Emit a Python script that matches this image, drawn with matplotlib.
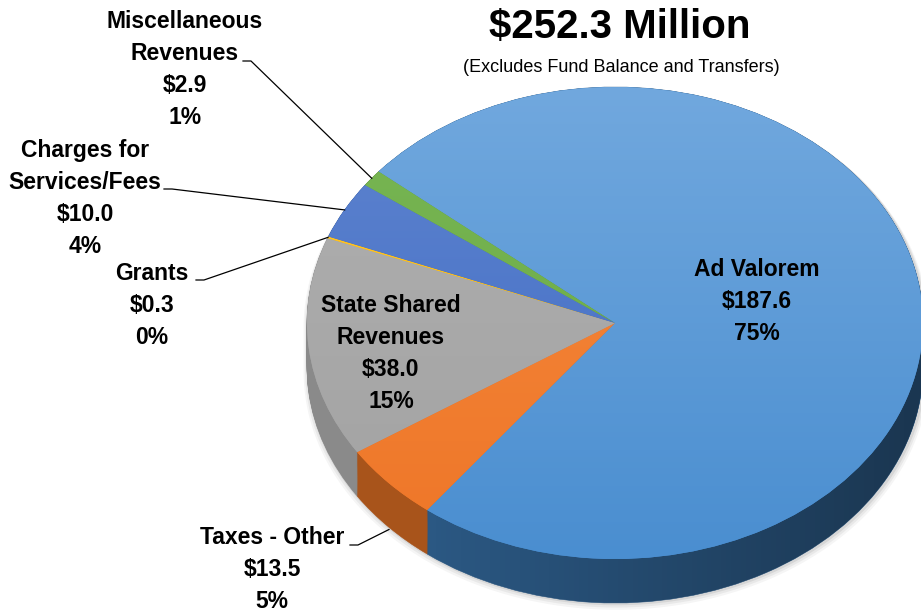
import matplotlib.pyplot as plt
import numpy as np
from matplotlib.path import Path
from matplotlib.patches import PathPatch
from matplotlib.colors import LinearSegmentedColormap

# data (clockwise from the Ad Valorem slice)
categories = ['Ad Valorem', 'Taxes - Other', 'State Shared\nRevenues', 'Grants',
              'Charges for\nServices/Fees', 'Miscellaneous\nRevenues']
values = [187.6, 13.5, 38.0, 0.3, 10.0, 2.9]
amounts = ['$187.6', '$13.5', '$38.0', '$0.3', '$10.0', '$2.9']
pcts = ['75%', '5%', '15%', '0%', '4%', '1%']
title = '$252.3 Million'
subtitle = '(Excludes Fund Balance and Transfers)'

top_light = ['#71a8de', '#f68a3e', '#b0b0b0', '#ffc533', '#5f84cf', '#78b654']
top_dark = ['#4a8ed0', '#ee7628', '#a2a2a2', '#ffbd00', '#3e6bc4', '#6aa943']
side_cols = ['#2b5883', '#a8541b', '#8a8a8a', '#c09000', '#2f5597', '#507e32']

W, H = 921, 612
CX, CY, RX, RY = 615, 323, 308, 236   # pie centre / radii in pixels
DEPTH = 44                            # thickness in pixels
START = 140.1

FONT = ['Liberation Sans Narrow', 'Liberation Sans', 'DejaVu Sans']


def to_data(x, y):
    return (x - CX) / RX, (CY - y) / RY


fig = plt.figure(figsize=(W / 100, H / 100), dpi=100)
ax = fig.add_axes([0, 0, 1, 1])
d = DEPTH / RY

# outline of the whole extruded disc (used for shadow and side shading)
t1 = np.linspace(0, np.pi, 300)
t2 = np.linspace(np.pi, 2 * np.pi, 300)
ox = np.concatenate([np.cos(t1), np.cos(t2)])
oy = np.concatenate([np.sin(t1), np.sin(t2) - d])
outline = Path(np.column_stack([ox, oy]), closed=False)

# soft shadow
for k, a in [(0.03, 0.06), (0.02, 0.08), (0.01, 0.12)]:
    sh = Path(np.column_stack([ox * (1 + k * 0.5) + 0.004, oy * (1 + k * 0.3) - k * 0.6]))
    ax.add_patch(PathPatch(sh, facecolor='#555555', edgecolor='none', alpha=a, zorder=0.5))

# sides: stack of pies going down
for k in np.linspace(d, 0, 46):
    ws, _ = ax.pie(values, colors=side_cols, startangle=START, counterclock=False,
                   center=(0, -k), radius=1, wedgeprops=dict(linewidth=0, zorder=1))
    for w in ws:
        w.set_edgecolor(w.get_facecolor())
        w.set_linewidth(0.4)

# horizontal darkening of the side
ramp = np.zeros((2, 400, 4))
xs = np.linspace(-1.05, 1.05, 400)
ramp[..., 3] = np.clip((xs + 0.6) / 1.55, 0, 1) * 0.38
shade = ax.imshow(ramp, extent=[-1.05, 1.05, -1 - d - 0.05, 0.5], aspect='auto', zorder=2)
shade.set_clip_path(PathPatch(outline, transform=ax.transData))

# top face
wedges, _ = ax.pie(values, colors=top_dark, startangle=START, counterclock=False,
                   radius=1, wedgeprops=dict(linewidth=0, zorder=3))
grad = np.linspace(0, 1, 256).reshape(-1, 1)
for w, lo, hi in zip(wedges, top_dark, top_light):
    cm = LinearSegmentedColormap.from_list('g', [lo, hi])
    im = ax.imshow(grad, extent=[-1, 1, -1, 1], origin='lower', cmap=cm,
                   aspect='auto', zorder=4)
    im.set_clip_path(w)

ax.set_aspect('auto')
ax.set_xlim((0 - CX) / RX, (W - CX) / RX)
ax.set_ylim((CY - H) / RY, CY / RY)
ax.axis('off')

# labels: (centre x, last-line baseline y) in pixels, leader start or None
label_pos = [(757, 340), (272, 608), (391, 408), (152, 344), (85, 253), (185, 124)]
leader = [None, (350, 545), None, (196, 280), (164, 189), (243, 61)]

mids = []
ang = START
for v in values:
    span = v / sum(values) * 360
    mids.append(np.deg2rad(ang - span / 2))
    ang -= span

for i, cat in enumerate(categories):
    x, y = label_pos[i]
    tx, ty = to_data(x, y)
    ax.text(tx, ty, cat + '\n' + amounts[i] + '\n' + pcts[i], ha='center', va='baseline',
            multialignment='center', fontsize=16.5, fontweight='bold', family=FONT,
            linespacing=1.5, zorder=6)
    if leader[i] is not None:
        lx, ly = to_data(*leader[i])
        ex, ey = np.cos(mids[i]), np.sin(mids[i])
        if ey < 0:
            ey -= d * 1.05
        ax.plot([lx, lx + 8 / RX, ex], [ly, ly, ey], color='black', lw=0.9, zorder=6)

fig.text(620 / W, 1 - 38 / H, title, ha='center', va='baseline', fontsize=29,
         fontweight='bold', family=FONT)
fig.text(621 / W, 1 - 72 / H, subtitle, ha='center', va='baseline', fontsize=13,
         family=FONT)

fig.savefig('out.png', dpi=100)
plt.close(fig)
